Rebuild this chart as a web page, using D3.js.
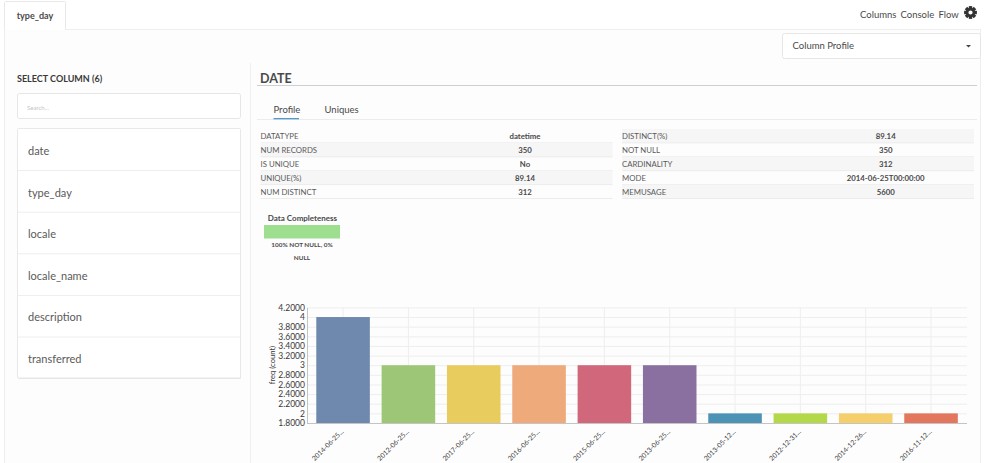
<!DOCTYPE html>
<html>
<head>
  <meta charset="utf-8" />
  <script src="https://d3js.org/d3.v7.min.js"></script>
  <style>
    body { margin: 0; background: #fff; }
    svg { display: block; font-family: Lato, "Open Sans", sans-serif; }
    .axis text { font-family: Lato, sans-serif; fill: #3a3a3a; }
    .grid line { stroke: #eeeeee; stroke-width: 1px; }
    .grid path { display: none; }
  </style>
</head>
<body>
  <script>
    // chart data
    var categories = ["2014-06-25...", "2012-06-25...", "2017-06-25...", "2016-06-25...", "2015-06-25...",
      "2013-06-25...", "2013-05-12...", "2012-12-31...", "2014-12-26...", "2016-11-12..."];
    var freq = [4, 3, 3, 3, 3, 3, 2, 2, 2, 2];
    var barColors = ["#6f89ae", "#9dc777", "#e8cd5e", "#eeaa7b", "#d0677a",
      "#8a70a0", "#4c93b5", "#b3d84a", "#f4cf6b", "#e3775e"];
    var yTicks = [1.8, 2, 2.2, 2.4, 2.6, 2.8, 3, 3.2, 3.4, 3.6, 3.8, 4, 4.2];

    // page text
    var columnNames = ["date", "type_day", "locale", "locale_name", "description", "transferred"];
    var leftLabels = ["DATATYPE", "NUM RECORDS", "IS UNIQUE", "UNIQUE(%)", "NUM DISTINCT"];
    var leftValues = ["datetime", "350", "No", "89.14", "312"];
    var rightLabels = ["DISTINCT(%)", "NOT NULL", "CARDINALITY", "MODE", "MEMUSAGE"];
    var rightValues = ["89.14", "350", "312", "2014-06-25T00:00:00", "5600"];

    var width = 999, height = 463;
    var svg = d3.select("body").append("svg").attr("width", width).attr("height", height);

    function label(x, y, txt, size, weight, color, anchor) {
      return svg.append("text").attr("x", x).attr("y", y).text(txt)
        .attr("font-size", size).attr("font-weight", weight || 400)
        .attr("fill", color || "#444").attr("text-anchor", anchor || "start");
    }
    function box(x, y, w, h, fill, stroke, r) {
      return svg.append("rect").attr("x", x).attr("y", y).attr("width", w).attr("height", h)
        .attr("fill", fill || "none").attr("stroke", stroke || "none").attr("rx", r || 0);
    }
    function rule(x1, y1, x2, y2, color) {
      return svg.append("line").attr("x1", x1).attr("y1", y1).attr("x2", x2).attr("y2", y2)
        .attr("stroke", color || "#eee");
    }

    // frame and top bar
    box(4.5, 29.5, 976, 440, "#fdfdfd", "#eeeeee");
    box(4.5, 1.5, 61, 28, "#fff", "#e8e8e8", 1);
    rule(5, 29.5, 65, 29.5, "#fff");
    label(35, 19, "type_day", 9, 700, "#4a4a4a", "middle");
    label(860, 18, "Columns", 9.5, 400, "#4a4a4a");
    label(900.5, 18, "Console", 9.5, 400, "#4a4a4a");
    label(938.5, 18, "Flow", 9.5, 400, "#4a4a4a");

    // gear icon
    var gear = svg.append("g").attr("transform", "translate(970.5,12.5)");
    d3.range(8).forEach(function (i) {
      gear.append("rect").attr("x", -1.7).attr("y", -6.4).attr("width", 3.4).attr("height", 3.4)
        .attr("fill", "#333").attr("transform", "rotate(" + i * 45 + ")");
    });
    gear.append("circle").attr("r", 3.4).attr("fill", "none").attr("stroke", "#333").attr("stroke-width", 2.6);

    // dropdown
    box(782.5, 33.5, 198, 25, "#fff", "#e6e6e6", 2);
    label(792.5, 49, "Column Profile", 9.5, 400, "#4a4a4a");
    svg.append("path").attr("d", "M966 45h5l-2.5 2.5z").attr("fill", "#444");

    // left column
    rule(250.5, 63, 250.5, 463, "#f0f0f0");
    label(17, 81.5, "SELECT COLUMN (6)", 9, 700, "#3a3a3a");
    box(17.5, 93.5, 223, 25, "#fff", "#e6e6e6", 2);
    label(27, 110, "Search...", 6, 400, "#c4c4c4");
    box(18, 130, 223, 249, "#e4e4e4", null, 1);
    box(17.5, 128.5, 223, 249.5, "#fff", "#e8e8e8", 1);
    columnNames.forEach(function (name, i) {
      label(28, 155 + i * 41.6, name, 11, 400, "#5a5a5a");
      if (i > 0) rule(18, 129 + i * 41.6, 240, 129 + i * 41.6, "#eeeeee");
    });

    // header and tabs
    label(260, 83, "DATE", 12.5, 700, "#4a4a4a");
    rule(257, 85.5, 977, 85.5, "#cfcfcf");
    label(273.5, 113, "Profile", 9.5, 400, "#4a4a4a");
    label(324.5, 113, "Uniques", 9.5, 400, "#4a4a4a");
    rule(257, 119.5, 977, 119.5, "#ececec");
    svg.append("line").attr("x1", 273.5).attr("y1", 118.7).attr("x2", 299).attr("y2", 118.7)
      .attr("stroke", "#3f8fc4").attr("stroke-width", 1.2);

    // stats tables
    function statsTable(x, w, valueX, labels, values, firstShaded) {
      labels.forEach(function (l, i) {
        var top = 129 + i * 13.9;
        if ((i % 2 === 0) === firstShaded) box(x, top, w, 13.9, "#f6f6f6");
        rule(x, top + 13.9, x + w, top + 13.9, "#ececec");
        label(x, top + 10, l, 7.8, 400, "#5a5a5a");
        label(valueX, top + 10, values[i], 7.8, 700, "#4a4a4a", "middle");
      });
    }
    statsTable(260.5, 352, 525, leftLabels, leftValues, false);
    statsTable(622, 352, 885.7, rightLabels, rightValues, true);

    // data completeness
    label(302.5, 221, "Data Completeness", 8, 700, "#4a4a4a", "middle");
    box(264, 225, 76, 13.5, "#9ede8f");
    label(302, 247, "100% NOT NULL, 0%", 6.4, 700, "#4a4a4a", "middle");
    label(302, 260, "NULL", 6.4, 700, "#4a4a4a", "middle");

    // bar chart
    var x = d3.scaleBand().domain(categories).range([310.4, 963.7]).paddingInner(0.18).paddingOuter(0.09);
    var y = d3.scaleLinear().domain([1.8, 4.2]).range([423, 307.4]);
    var chartLeft = 307, chartRight = 967;

    svg.append("g").attr("class", "grid")
      .attr("transform", "translate(" + chartLeft + ",0)")
      .call(d3.axisLeft(y).tickValues(yTicks).tickSize(-(chartRight - chartLeft)).tickFormat(""));
    svg.append("g").attr("class", "grid")
      .attr("transform", "translate(0,423)")
      .call(d3.axisBottom(x).tickSize(-(423 - 307.4)).tickFormat(""));

    svg.append("g").selectAll("rect").data(freq).join("rect")
      .attr("x", function (d, i) { return x(categories[i]); })
      .attr("y", function (d) { return y(d); })
      .attr("width", x.bandwidth())
      .attr("height", function (d) { return y(1.8) - y(d); })
      .attr("fill", function (d, i) { return barColors[i]; });

    var yAxis = svg.append("g").attr("class", "axis")
      .attr("transform", "translate(" + chartLeft + ",0)")
      .call(d3.axisLeft(y).tickValues(yTicks).tickSize(0).tickPadding(2)
        .tickFormat(function (d) { return Number.isInteger(d) ? d : d.toFixed(4); }));
    yAxis.selectAll("text").attr("font-size", 8.5);
    yAxis.select("path").attr("stroke", "#c4c4c4");

    var xAxis = svg.append("g").attr("class", "axis")
      .attr("transform", "translate(0,423)")
      .call(d3.axisBottom(x).tickSize(0));
    xAxis.select("path").attr("stroke", "#c4c4c4").attr("d", "M" + chartLeft + ",0.5H" + chartRight);
    xAxis.selectAll("text")
      .attr("font-size", 6.8)
      .attr("text-anchor", "end")
      .attr("dx", 0).attr("dy", 0).attr("y", 0)
      .attr("transform", "translate(1,9) rotate(-45)");

    svg.append("text").attr("transform", "translate(274.5,365) rotate(-90)")
      .attr("text-anchor", "middle").attr("font-size", 7.6).attr("fill", "#3a3a3a").text("freq (count)");
  </script>
</body>
</html>
